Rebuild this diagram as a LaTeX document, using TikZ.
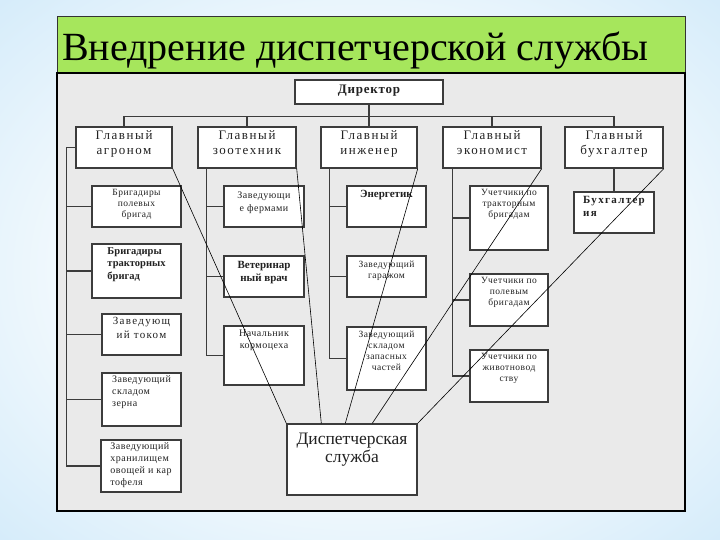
\documentclass[tikz,border=0pt]{standalone}
\usepackage{fontspec}
\setmainfont{Liberation Serif}
\newfontfamily\spc[LetterSpace=12]{Liberation Serif}
\newfontfamily\spe[LetterSpace=6]{Liberation Serif}
\newfontfamily\spd[LetterSpace=5]{Liberation Serif}
\definecolor{bgA}{HTML}{F2F9FD}
\definecolor{bgB}{HTML}{CDE8F9}
\definecolor{bgC}{HTML}{9ED2F3}
\definecolor{titlegreen}{HTML}{A6E65C}
\definecolor{panelgray}{HTML}{EAEAEA}
\definecolor{boxc}{HTML}{3C3C3C}
\definecolor{txt}{HTML}{222222}
\pgfdeclareradialshading{bgsh}{\pgfpoint{0bp}{0bp}}{color(0bp)=(white); color(20bp)=(bgA); color(40bp)=(bgB); color(72bp)=(bgC)}
\newcommand\obox[7]{%
  \node[box, minimum width={#4-#2}, minimum height={#5-#3},
        label={[#6]north:{#7}}] (#1) at ({(#2+#4)/2},{(#3+#5)/2}) {};}
\begin{document}
\begin{tikzpicture}[x=1pt,y=-1pt,
  box/.style={draw=boxc, fill=white, line width=1.4pt, inner sep=0pt},
  head/.style={font=\spc\fontsize{13}{15.5}\selectfont, align=center, anchor=north, inner sep=4pt, text=txt},
  sm/.style={font=\spd\fontsize{9.5}{11}\selectfont, align=center, anchor=north, inner sep=4pt, text=txt},
  md/.style={font=\bfseries\fontsize{11}{12.5}\selectfont, align=center, anchor=north, inner sep=4pt, text=txt},
  mdl/.style={font=\bfseries\fontsize{10.5}{12.5}\selectfont, align=left, anchor=north, inner sep=4pt, text=txt},
  sml/.style={font=\spd\fontsize{10}{12}\selectfont, align=left, anchor=north, inner sep=3pt, text=txt},
  branch/.style={draw=boxc, line width=1.3pt},
  thin/.style={draw=black, line width=0.6pt}]
\useasboundingbox (0,0) rectangle (720,540);
\shade[shading=bgsh] (0,0) rectangle (720,540);
% title
\draw[fill=titlegreen, draw=black!80, line width=1pt] (57,17) rectangle (685,73);
\node[anchor=base west, inner sep=0pt, font=\fontsize{40}{44}\selectfont] (title) at (62,61) {Внедрение диспетчерской службы};
% panel
\draw[fill=panelgray, draw=black, line width=1.8pt] (57,73) rectangle (685,511);
% director and heads
\obox{dir}{295}{80}{443}{104}{head, font=\spe\bfseries\fontsize{13}{15}\selectfont, inner sep=5pt}{Директор}
\obox{agr}{76}{127}{172}{168}{head}{Главный\\агроном}
\obox{zoo}{198}{127}{296}{168}{head}{Главный\\зоотехник}
\obox{eng}{321}{127}{417}{168}{head}{Главный\\инженер}
\obox{eco}{443}{127}{541}{168}{head}{Главный\\экономист}
\obox{buh}{565}{127}{663}{168}{head}{Главный\\бухгалтер}
% agronom children
\obox{a1}{92}{186}{181}{227}{sm}{Бригадиры\\полевых\\бригад}
\obox{a2}{92}{244}{181}{298}{mdl}{Бригадиры\\тракторных\\бригад}
\obox{a3}{102}{314}{181}{355}{head, font=\spc\fontsize{11}{14}\selectfont}{Заведующ\\ий током}
\obox{a4}{102}{373}{181}{426}{sml}{Заведующий\\складом\\зерна}
\obox{a5}{101}{440}{181}{492}{sml}{Заведующий\\хранилищем\\овощей и кар\\тофеля}
% zootechnik children
\obox{z1}{224}{186}{304}{227}{sm, font=\spd\fontsize{10}{13}\selectfont, inner sep=6pt}{Заведующи\\е фермами}
\obox{z2}{224}{256}{304}{297}{md, inner sep=6pt}{Ветеринар\\ный врач}
\obox{z3}{224}{326}{304}{385}{sm, font=\spd\fontsize{10}{12}\selectfont}{Начальник\\кормоцеха}
% engineer children
\obox{e1}{347}{186}{426}{227}{md, inner sep=5pt}{Энергетик}
\obox{e2}{347}{256}{426}{297}{sm, inner sep=5pt}{Заведующий\\гаражом}
\obox{e3}{347}{327}{426}{390}{sm}{Заведующий\\складом\\запасных\\частей}
% economist children
\obox{k1}{470}{186}{548}{250}{sm}{Учетчики по\\тракторным\\бригадам}
\obox{k2}{470}{274}{548}{326}{sm}{Учетчики по\\полевым\\бригадам}
\obox{k3}{470}{350}{548}{402}{sm}{Учетчики по\\животновод\\ству}
% accountant child
\obox{b1}{574}{192}{654}{233}{mdl, font=\spc\bfseries\fontsize{11}{13}\selectfont, inner sep=5pt}{Бухгалтер\\ия}
% dispatch
\obox{disp}{287}{424}{417}{495}{head, font=\fontsize{17.5}{18}\selectfont, inner sep=10pt}{Диспетчерская\\служба}
% top-level connectors
\draw[branch] (dir.south) -- (eng.north);
\draw[branch] (agr.north) -- ++(0,-10) -| (buh.north);
\draw[branch] (zoo.north) -- ++(0,-10);
\draw[branch] (eco.north) -- ++(0,-10);
% agronom branch
\draw[branch] (agr.west) -- ++(-9,0) coordinate (ab) |- (a5.west);
\foreach \c in {a1,a2,a3,a4} \draw[branch] (ab |- \c.west) -- (\c.west);
% zootechnik branch
\coordinate (zb) at ([xshift=9]zoo.south west);
\draw[branch] (zb) |- (z3.west);
\foreach \c in {z1,z2} \draw[branch] (zb |- \c.west) -- (\c.west);
% engineer branch
\coordinate (eb) at ([xshift=9]eng.south west);
\draw[branch] (eb) |- (e3.west);
\foreach \c in {e1,e2} \draw[branch] (eb |- \c.west) -- (\c.west);
% economist branch
\coordinate (kb) at ([xshift=10]eco.south west);
\draw[branch] (kb) |- (k3.west);
\foreach \c in {k1,k2} \draw[branch] (kb |- \c.west) -- (\c.west);
% accountant
\draw[branch] (buh.south) -- (b1.north);
% thin lines to dispatch
\draw[thin] (agr.south east) -- (disp.north west);
\draw[thin] (zoo.south east) -- ([xshift=35]disp.north west);
\draw[thin] (eng.south east) -- ([xshift=59]disp.north west);
\draw[thin] (eco.south east) -- ([xshift=86]disp.north west);
\draw[thin] (buh.south east) -- (disp.north east);
\end{tikzpicture}
\end{document}
